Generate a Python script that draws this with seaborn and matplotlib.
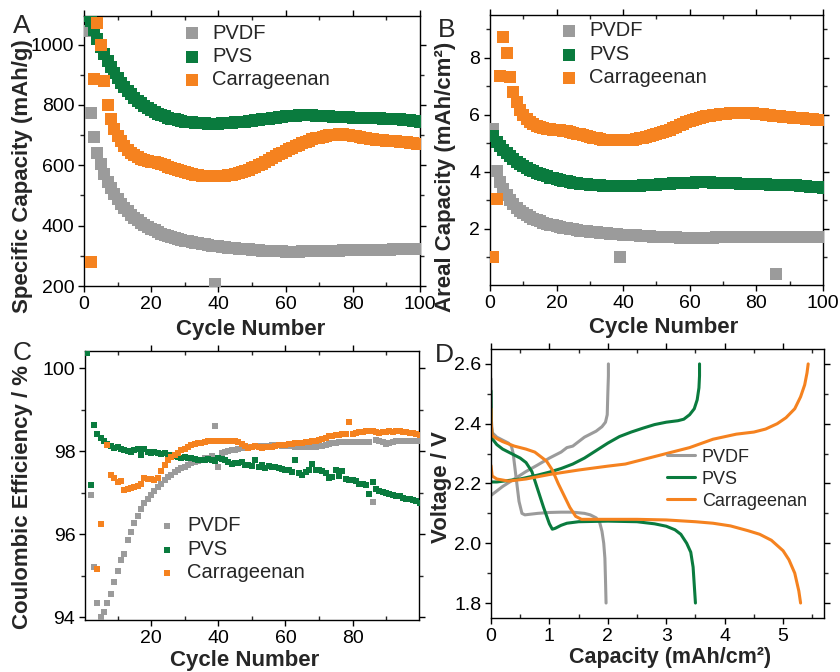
import numpy as np
import pandas as pd
import seaborn as sns
import matplotlib.pyplot as plt
from matplotlib.ticker import MultipleLocator, FixedLocator

# ---- data ----
cycles = list(range(1, 101))
nan = np.nan

# A: specific capacity (mAh/g)
spec_pvdf = [1045, 772, 695, 640, 603, 572, 546, 524, 505, 488,
             473, 460, 448, 437, 427, 418, 410, 403, 396, 390,
             384, 379, 374, 370, 366, 362, 359, 356, 353, 350,
             348, 346, 344, 342, 340, 338, 336, 334, 205, 331,
             329, 328, 327, 326, 325, 324, 323, 322, 321, 320,
             319, 318, 317, 317, 316, 316, 315, 315, 315, 314,
             314, 314, 314, 314, 315, 315, 315, 315, 316, 316,
             316, 316, 317, 317, 317, 317, 318, 318, 318, 318,
             318, 318, 319, 319, 319, 80, 319, 320, 320, 320,
             320, 321, 321, 321, 322, 322, 322, 323, 323, 323]
spec_pvs = [1095, 1078, 1048, 1018, 992, 968, 946, 926, 907, 890,
            874, 860, 847, 835, 824, 814, 805, 797, 790, 783,
            777, 771, 766, 762, 758, 755, 752, 749, 747, 745,
            743, 742, 741, 740, 739, 739, 738, 738, 738, 738,
            739, 739, 740, 741, 742, 743, 744, 745, 746, 748,
            749, 751, 752, 754, 755, 757, 758, 760, 761, 762,
            763, 764, 765, 766, 767, 767, 767, 766, 765, 764,
            763, 762, 762, 761, 761, 760, 760, 759, 759, 758,
            758, 758, 757, 757, 757, 756, 756, 756, 755, 755,
            754, 754, 753, 752, 751, 750, 749, 748, 746, 744]
spec_carr = [nan, 280, 885, 1072, 1000, 880, 800, 755, 722, 698,
             680, 664, 651, 641, 633, 627, 622, 618, 615, 612,
             610, 607, 604, 600, 596, 592, 588, 584, 580, 577,
             574, 571, 569, 567, 566, 565, 564, 564, 564, 564,
             565, 566, 567, 569, 571, 574, 577, 581, 585, 590,
             595, 600, 606, 612, 618, 624, 630, 636, 642, 648,
             654, 659, 664, 669, 674, 678, 682, 686, 689, 692,
             695, 697, 699, 701, 702, 703, 703, 702, 700, 698,
             696, 694, 692, 690, 688, 686, 685, 684, 683, 682,
             681, 680, 679, 678, 677, 676, 675, 674, 672, 670]

# B: areal capacity (mAh/cm2)
areal_pvdf = [5.50, 4.02, 3.65, 3.40, 3.18, 3.00, 2.86, 2.74, 2.64, 2.56,
              2.48, 2.42, 2.36, 2.31, 2.26, 2.22, 2.18, 2.15, 2.12, 2.09,
              2.06, 2.04, 2.02, 2.00, 1.98, 1.96, 1.94, 1.93, 1.91, 1.90,
              1.89, 1.88, 1.86, 1.85, 1.84, 1.83, 1.82, 1.81, 1.00, 1.80,
              1.79, 1.78, 1.77, 1.77, 1.76, 1.75, 1.74, 1.74, 1.73, 1.72,
              1.72, 1.71, 1.71, 1.70, 1.70, 1.70, 1.69, 1.69, 1.69, 1.69,
              1.69, 1.69, 1.69, 1.69, 1.69, 1.69, 1.69, 1.70, 1.70, 1.70,
              1.70, 1.70, 1.70, 1.70, 1.70, 1.71, 1.71, 1.71, 1.71, 1.71,
              1.71, 1.71, 1.71, 1.71, 1.71, 0.42, 1.71, 1.72, 1.72, 1.72,
              1.72, 1.72, 1.72, 1.72, 1.72, 1.72, 1.73, 1.73, 1.73, 1.73]
areal_pvs = [5.25, 5.05, 4.90, 4.78, 4.66, 4.55, 4.45, 4.36, 4.28, 4.21,
             4.14, 4.08, 4.02, 3.97, 3.92, 3.88, 3.84, 3.80, 3.77, 3.74,
             3.71, 3.68, 3.66, 3.64, 3.62, 3.60, 3.58, 3.57, 3.56, 3.55,
             3.54, 3.53, 3.52, 3.51, 3.50, 3.50, 3.49, 3.49, 3.49, 3.49,
             3.49, 3.50, 3.50, 3.51, 3.51, 3.52, 3.53, 3.53, 3.54, 3.55,
             3.56, 3.57, 3.57, 3.58, 3.59, 3.60, 3.60, 3.61, 3.61, 3.62,
             3.62, 3.63, 3.63, 3.63, 3.63, 3.63, 3.62, 3.62, 3.61, 3.61,
             3.60, 3.60, 3.59, 3.59, 3.58, 3.58, 3.58, 3.57, 3.57, 3.57,
             3.56, 3.56, 3.56, 3.55, 3.55, 3.55, 3.54, 3.54, 3.53, 3.53,
             3.52, 3.52, 3.51, 3.50, 3.49, 3.48, 3.47, 3.46, 3.45, 3.44]
areal_carr = [1.00, 3.05, 7.35, 8.72, 8.16, 7.32, 6.80, 6.45, 6.18, 5.98,
              5.85, 5.75, 5.68, 5.62, 5.57, 5.54, 5.51, 5.49, 5.47, 5.46,
              5.45, 5.44, 5.42, 5.40, 5.37, 5.34, 5.31, 5.28, 5.25, 5.22,
              5.19, 5.17, 5.15, 5.13, 5.12, 5.11, 5.10, 5.10, 5.10, 5.10,
              5.11, 5.12, 5.13, 5.15, 5.17, 5.19, 5.22, 5.25, 5.28, 5.31,
              5.35, 5.39, 5.43, 5.48, 5.53, 5.58, 5.63, 5.68, 5.73, 5.78,
              5.82, 5.86, 5.89, 5.92, 5.94, 5.96, 5.98, 6.00, 6.02, 6.03,
              6.04, 6.05, 6.06, 6.07, 6.07, 6.07, 6.07, 6.06, 6.05, 6.04,
              6.03, 6.02, 6.00, 5.99, 5.97, 5.96, 5.94, 5.93, 5.92, 5.91,
              5.90, 5.89, 5.88, 5.87, 5.86, 5.85, 5.84, 5.83, 5.82, 5.81]

# C: coulombic efficiency (%)
ce_pvdf = [nan, 96.95, 95.20, 94.35, 94.00, 94.12, 94.33, 94.55, 94.85, 95.10,
           95.38, 95.52, 95.85, 96.05, 96.28, 96.45, 96.60, 96.75, 96.85, 96.95,
           97.05, 97.13, 97.22, 97.30, 97.37, 97.43, 97.49, 97.54, 97.59, 97.63,
           97.67, 97.71, 97.74, 97.77, 97.80, 97.83, 97.85, 97.88, 98.60, 97.62,
           97.95, 97.98, 98.00, 98.02, 98.04, 98.06, 98.08, 98.09, 98.10, 98.11,
           98.12, 98.12, 98.13, 98.13, 98.13, 98.14, 98.14, 98.14, 98.13, 98.13,
           98.12, 98.12, 98.11, 98.11, 98.10, 98.10, 98.10, 98.10, 98.11, 98.12,
           98.13, 98.15, 98.17, 98.19, 98.21, 98.22, 98.23, 98.23, 98.23, 98.23,
           98.23, 98.22, 98.22, 98.22, 98.22, 96.78, 98.28, 98.26, 98.22, 98.17,
           98.20, 98.22, 98.24, 98.24, 98.25, 98.25, 98.25, 98.26, 98.26, 98.26]
ce_pvs = [100.37, 97.18, 98.63, 98.42, 98.33, 98.25, 98.18, 98.12, 98.08, 98.10,
          98.05, 98.03, 98.00, 97.98, 98.02, 98.05, 97.90, 98.06, 97.98, 97.95,
          97.98, 97.96, 97.93, 97.95, 97.90, 97.92, 97.88, 97.87, 97.85, 97.86,
          97.84, 97.84, 97.82, 97.80, 97.78, 97.80, 97.81, 97.79, 97.76, 97.85,
          97.82, 97.78, 97.75, 97.70, 97.72, 97.71, 97.74, 97.68, 97.66, 97.64,
          97.80, 97.62, 97.68, 97.60, 97.65, 97.62, 97.63, 97.60, 97.58, 97.56,
          97.55, 97.50, 97.80, 97.48, 97.42, 97.50, 97.55, 97.70, 97.56, 97.54,
          97.52, 97.48, 97.35, 97.38, 97.55, 97.40, 97.53, 97.32, 97.30, 97.30,
          97.28, 97.22, 97.20, 97.18, 96.98, 97.25, 97.10, 97.05, 97.02, 97.00,
          96.98, 96.95, 96.93, 96.92, 96.88, 96.86, 96.84, 96.82, 96.80, 96.76]
ce_carr = [nan, nan, nan, 95.17, 96.24, nan, 98.16, 97.42, 97.36, 97.26,
           97.28, 97.06, 97.10, 97.12, 97.14, 97.16, 97.20, 97.36, 97.34, 97.32,
           97.30, 97.36, 97.52, 97.66, 97.78, 97.86, 97.92, 97.97, 98.02, 98.06,
           98.10, 98.14, 98.17, 98.19, 98.21, 98.23, 98.25, 98.26, 98.26, 98.26,
           98.25, 98.26, 98.25, 98.26, 98.25, 98.22, 98.18, 98.12, 98.08, 98.10,
           98.12, 98.10, 98.08, 98.10, 98.10, 98.11, 98.12, 98.14, 98.15, 98.16,
           98.17, 98.18, 98.19, 98.20, 98.21, 98.22, 98.23, 98.24, 98.25, 98.27,
           98.30, 98.33, 98.36, 98.38, 98.40, 98.40, 98.41, 98.42, 98.70, 98.42,
           98.44, 98.46, 98.47, 98.48, 98.50, 98.48, 98.47, 98.45, 98.46, 98.47,
           98.48, 98.46, 98.48, 98.50, 98.47, 98.46, 98.45, 98.44, 98.42, 98.40]

# D: voltage profiles (discharge + charge)
pvdf_dis_cap = [0.0, 0.005, 0.02, 0.1, 0.2, 0.3, 0.35, 0.38, 0.43, 0.48, 0.53, 0.58,
                0.8, 1.0, 1.2, 1.4, 1.6, 1.7, 1.8, 1.86, 1.90, 1.93, 1.95, 1.96, 1.97]
pvdf_dis_v = [2.55, 2.42, 2.37, 2.355, 2.345, 2.335, 2.325, 2.30, 2.22, 2.14, 2.10, 2.095,
              2.10, 2.103, 2.104, 2.104, 2.10, 2.095, 2.085, 2.07, 2.04, 2.0, 1.95, 1.88, 1.80]
pvdf_chg_cap = [0.0, 0.2, 0.4, 0.6, 0.8, 1.0, 1.2, 1.3, 1.4, 1.5, 1.6, 1.7, 1.8,
                1.9, 1.96, 1.99, 2.0, 2.01, 2.01]
pvdf_chg_v = [2.16, 2.19, 2.215, 2.24, 2.262, 2.285, 2.305, 2.32, 2.325, 2.34, 2.355, 2.365, 2.375,
              2.39, 2.405, 2.43, 2.50, 2.56, 2.60]
pvs_dis_cap = [0.0, 0.005, 0.02, 0.1, 0.2, 0.35, 0.5, 0.6, 0.7, 0.8, 0.9, 1.0, 1.05, 1.1,
               1.2, 1.3, 1.5, 2.0, 2.5, 2.8, 3.0, 3.15, 3.25, 3.35, 3.42, 3.46, 3.48, 3.50]
pvs_dis_v = [2.51, 2.40, 2.35, 2.33, 2.315, 2.30, 2.285, 2.27, 2.24, 2.18, 2.12, 2.065, 2.047, 2.05,
             2.06, 2.067, 2.072, 2.074, 2.072, 2.065, 2.057, 2.045, 2.03, 2.0, 1.97, 1.92, 1.86, 1.80]
pvs_chg_cap = [0.0, 0.1, 0.3, 0.5, 0.8, 1.0, 1.2, 1.4, 1.6, 1.8, 2.0, 2.2, 2.4, 2.6, 2.8,
               3.0, 3.2, 3.3, 3.4, 3.48, 3.53, 3.56, 3.57, 3.57]
pvs_chg_v = [2.205, 2.205, 2.21, 2.215, 2.228, 2.238, 2.25, 2.265, 2.285, 2.31, 2.335, 2.357, 2.372,
             2.385, 2.397, 2.405, 2.41, 2.415, 2.43, 2.45, 2.48, 2.52, 2.56, 2.60]
carr_dis_cap = [0.0, 0.005, 0.02, 0.1, 0.2, 0.4, 0.6, 0.75, 0.85, 0.95, 1.05, 1.15, 1.25, 1.35,
                1.45, 1.55, 2.0, 2.5, 3.0, 3.5, 3.8, 4.1, 4.4, 4.6, 4.8, 5.0, 5.1, 5.2, 5.27, 5.30]
carr_dis_v = [2.45, 2.40, 2.36, 2.35, 2.34, 2.325, 2.315, 2.305, 2.29, 2.275, 2.245, 2.20, 2.16, 2.12,
              2.09, 2.08, 2.08, 2.08, 2.078, 2.072, 2.067, 2.058, 2.042, 2.03, 2.01, 1.975, 1.945,
              1.90, 1.84, 1.80]
carr_chg_cap = [0.0, 0.02, 0.1, 0.3, 0.6, 1.0, 1.5, 2.0, 2.3, 2.6, 3.0, 3.4, 3.8, 4.2, 4.5,
                4.7, 4.9, 5.05, 5.2, 5.3, 5.37, 5.41, 5.43]
carr_chg_v = [2.26, 2.225, 2.215, 2.208, 2.215, 2.23, 2.245, 2.258, 2.265, 2.28, 2.30, 2.32, 2.348,
              2.365, 2.372, 2.382, 2.40, 2.42, 2.45, 2.49, 2.53, 2.57, 2.60]

names = ["PVDF", "PVS", "Carrageenan"]
colors = ["#9B9B9B", "#0A7B3E", "#F5821F"]

# ---- style ----
sns.set_style("ticks")
plt.rcParams['font.family'] = ['Liberation Sans', 'DejaVu Sans']
plt.rcParams['axes.linewidth'] = 1.0

fig = plt.figure(figsize=(8.4, 6.72), dpi=100)
axA = fig.add_axes([0.100, 0.5744, 0.400, 0.4018])
axB = fig.add_axes([0.5833, 0.5759, 0.3964, 0.4018])
axC = fig.add_axes([0.1012, 0.0774, 0.3976, 0.4003])
axD = fig.add_axes([0.5845, 0.0804, 0.3964, 0.4003])


def style_axis(ax):
    for s in ax.spines.values():
        s.set_visible(True)
        s.set_color("black")
        s.set_linewidth(1.0)
    ax.tick_params(axis="both", which="major", direction="out", length=4, width=1,
                   labelsize=14, pad=3, colors="black")
    ax.tick_params(axis="y", which="minor", direction="out", length=3, width=1)
    ax.tick_params(axis="x", which="minor", direction="in", length=3, width=1)
    ax.tick_params(top=True, right=True, which="both")
    ax.tick_params(axis="x", which="both", top=True, labeltop=False)
    ax.grid(False)


def draw_scatter(ax, series, size):
    for vals, name, col in zip(series, names, colors):
        df = pd.DataFrame({"cycle": cycles, "value": vals}).dropna()
        sns.scatterplot(data=df, x="cycle", y="value", ax=ax, marker="s", s=size,
                        color=col, linewidth=0, label=name, zorder=3)


# A
draw_scatter(axA, [spec_pvdf, spec_pvs, spec_carr], 70)
axA.set_xlim(0, 100)
axA.set_ylim(200, 1095)
axA.xaxis.set_major_locator(MultipleLocator(20))
axA.xaxis.set_minor_locator(MultipleLocator(10))
axA.yaxis.set_major_locator(MultipleLocator(200))
axA.yaxis.set_minor_locator(MultipleLocator(100))
axA.set_xlabel("Cycle Number", fontsize=16, fontweight="bold")
axA.set_ylabel("Specific Capacity (mAh/g)", fontsize=16, fontweight="bold")

# B
draw_scatter(axB, [areal_pvdf, areal_pvs, areal_carr], 70)
axB.set_xlim(0, 100)
axB.set_ylim(0.03, 9.5)
axB.xaxis.set_major_locator(MultipleLocator(20))
axB.xaxis.set_minor_locator(MultipleLocator(10))
axB.yaxis.set_major_locator(MultipleLocator(2))
axB.yaxis.set_minor_locator(MultipleLocator(1))
axB.set_xlabel("Cycle Number", fontsize=16, fontweight="bold")
axB.set_ylabel("Areal Capacity (mAh/cm²)", fontsize=16, fontweight="bold")

# C
draw_scatter(axC, [ce_pvdf, ce_pvs, ce_carr], 22)
axC.set_xlim(0.3, 99.8)
axC.set_ylim(93.93, 100.42)
axC.xaxis.set_major_locator(FixedLocator([20, 40, 60, 80]))
axC.xaxis.set_minor_locator(FixedLocator([10, 30, 50, 70, 90]))
axC.yaxis.set_major_locator(MultipleLocator(2))
axC.yaxis.set_minor_locator(MultipleLocator(1))
axC.set_xlabel("Cycle Number", fontsize=16, fontweight="bold")
axC.set_ylabel("Coulombic Efficiency / %", fontsize=16, fontweight="bold")

# D
profiles = [(pvdf_dis_cap, pvdf_dis_v, pvdf_chg_cap, pvdf_chg_v),
            (pvs_dis_cap, pvs_dis_v, pvs_chg_cap, pvs_chg_v),
            (carr_dis_cap, carr_dis_v, carr_chg_cap, carr_chg_v)]
for (dc, dv, cc, cv), name, col in zip(profiles, names, colors):
    sns.lineplot(x=dc, y=dv, ax=axD, sort=False, estimator=None, color=col,
                 linewidth=2.2, label=name)
    sns.lineplot(x=cc, y=cv, ax=axD, sort=False, estimator=None, color=col,
                 linewidth=2.2)
axD.set_xlim(0, 5.7)
axD.set_ylim(1.75, 2.65)
axD.xaxis.set_major_locator(MultipleLocator(1))
axD.xaxis.set_minor_locator(MultipleLocator(0.5))
axD.yaxis.set_major_locator(MultipleLocator(0.2))
axD.yaxis.set_minor_locator(MultipleLocator(0.1))
axD.yaxis.set_major_formatter(plt.FuncFormatter(lambda v, p: f"{v:.1f}"))
axD.set_xlabel("Capacity (mAh/cm²)", fontsize=15.5, fontweight="bold")
axD.set_ylabel("Voltage / V", fontsize=16, fontweight="bold")

for ax in (axA, axB, axC, axD):
    style_axis(ax)

# label positions
axA.xaxis.set_label_coords(0.497, -0.122)
axA.yaxis.set_label_coords(-0.152, 0.407)
axB.xaxis.set_label_coords(0.522, -0.118)
axB.yaxis.set_label_coords(-0.101, 0.400)
axC.xaxis.set_label_coords(0.477, -0.112)
axC.yaxis.set_label_coords(-0.156, 0.457)
axD.xaxis.set_label_coords(0.537, -0.108)
axD.yaxis.set_label_coords(-0.116, 0.487)

# legends
leg_kw = dict(frameon=False, borderpad=0, borderaxespad=0, handlelength=1.0,
              handletextpad=0.5, labelspacing=0.22, fontsize=14.5)
axA.legend(loc="upper left", bbox_to_anchor=(0.292, 0.972), **leg_kw)
axB.legend(loc="upper left", bbox_to_anchor=(0.207, 0.976), **leg_kw)
axC.legend(loc="upper left", bbox_to_anchor=(0.216, 0.385), **leg_kw)
axD.legend(loc="upper left", bbox_to_anchor=(0.529, 0.630), frameon=False, borderpad=0,
           borderaxespad=0, handlelength=1.55, handletextpad=0.37, labelspacing=0.28,
           fontsize=13)

# panel letters
for txt, x, y in [("A", 13, 33), ("B", 438, 37), ("C", 13, 360), ("D", 435, 362)]:
    fig.text(x / 840, 1 - y / 672, txt, fontsize=19, ha="left", va="baseline")

fig.savefig("out.png", dpi=100)
